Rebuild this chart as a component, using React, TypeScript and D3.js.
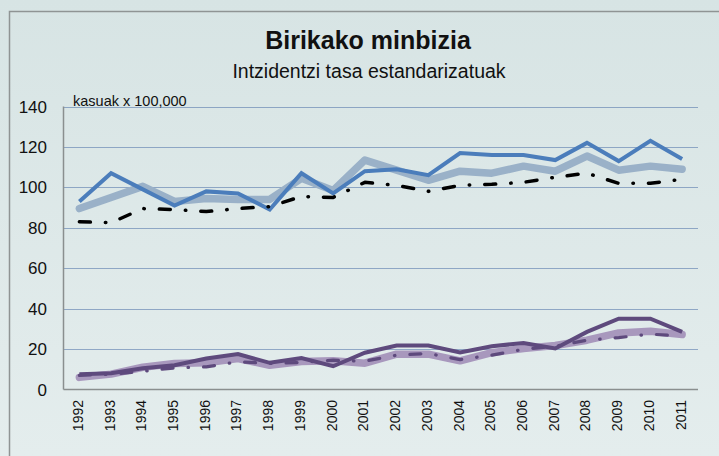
import * as d3 from "d3";
import React from "react";

// urteak
const years = [
  "1992", "1993", "1994", "1995", "1996", "1997", "1998", "1999", "2000", "2001",
  "2002", "2003", "2004", "2005", "2006", "2007", "2008", "2009", "2010", "2011",
];

// gizonak
const menMain = [93, 107, 99, 91, 98, 97, 89, 107, 97, 108, 109, 106, 117, 116, 116, 113.5, 122, 113, 123, 114];
const menRef = [89.5, 95, 100.5, 93, 94.5, 94, 94, 104.5, 98.5, 113.5, 108.5, 103.5, 108, 107, 110.5, 108, 115.5, 108.5, 110.5, 109];
const menTrend = [83, 82.5, 89.5, 89, 88, 89.5, 90.5, 95.5, 95, 102.5, 101, 98, 101, 101.5, 102.5, 105, 107, 102, 102, 104];

// emakumeak
const womenMain = [7.5, 8, 10.5, 12, 15.3, 17.5, 13.2, 15.6, 11.5, 18.2, 21.8, 21.8, 18.3, 21.4, 23, 20.3, 28.5, 35, 35, 28.5];
const womenRef = [6, 7.6, 11, 12.9, 13.2, 15.3, 12, 13.8, 14.2, 13, 17.5, 17.5, 14.2, 18.2, 20.3, 21.8, 24.4, 28, 28.8, 27.2];
const womenTrend = [7, 7.5, 9, 10.7, 11.2, 13.7, 12.9, 13.4, 14.5, 14, 17, 17.8, 14.8, 17, 19.9, 21.4, 24.4, 25.7, 27.4, 26.4];

const yTicks = [0, 20, 40, 60, 80, 100, 120, 140];

const W = 719;
const H = 456;
const plot = { left: 63.5, right: 698, top: 106.5, bottom: 389.5 };

export default function App() {
  const x = d3
    .scaleBand<string>()
    .domain(years)
    .range([plot.left, plot.right])
    .padding(0);
  const y = d3.scaleLinear().domain([0, 140]).range([plot.bottom, plot.top]);
  const cx = (i: number) => (x(years[i]) ?? 0) + x.bandwidth() / 2;

  const line = d3
    .line<number>()
    .x((_, i) => cx(i))
    .y((d) => y(d));

  const series = [
    { data: menRef, color: "#9ab1c8", width: 7.5, dash: null, cap: "round" },
    { data: menMain, color: "#4b7dbb", width: 4, dash: null, cap: "butt" },
    { data: menTrend, color: "#000000", width: 3.5, dash: "11,15,0.5,15", cap: "round" },
    { data: womenRef, color: "#a898bd", width: 7.5, dash: null, cap: "round" },
    { data: womenMain, color: "#5e4a7d", width: 4, dash: null, cap: "butt" },
    { data: womenTrend, color: "#5e4a7d", width: 3.2, dash: "11,15,0.5,15", cap: "round" },
  ];

  return (
    <svg
      width={W}
      height={H}
      style={{ position: "absolute", left: 0, top: 0, display: "block" }}
      fontFamily="'Liberation Sans', Arial, sans-serif"
    >
      <defs>
        <linearGradient id="bg" x1="0" y1="0" x2="0" y2="1">
          <stop offset="0" stopColor="#d7e4e4" />
          <stop offset="1" stopColor="#e4eded" />
        </linearGradient>
      </defs>
      <rect x={0} y={0} width={W} height={H} fill="url(#bg)" />

      {/* kanpoko markoa */}
      <path d={`M9.5,${H} V11.5 H${W}`} fill="none" stroke="#8f9494" strokeWidth={1.5} />

      <text x={368} y={49} textAnchor="middle" fontSize={25} fontWeight="bold" fill="#111">
        Birikako minbizia
      </text>
      <text x={369} y={78} textAnchor="middle" fontSize={19.5} fill="#111">
        Intzidentzi tasa estandarizatuak
      </text>
      <text x={73} y={106} fontSize={14.5} fill="#111">
        kasuak x 100,000
      </text>

      {/* sareta */}
      {yTicks
        .filter((t) => t > 0)
        .map((t) => (
          <line
            key={t}
            x1={plot.left}
            x2={plot.right}
            y1={Math.round(y(t)) + 0.5}
            y2={Math.round(y(t)) + 0.5}
            stroke="#3f64a0"
            strokeWidth={1}
            strokeDasharray="1,1"
          />
        ))}

      {/* ardatzak */}
      <line x1={plot.left} x2={plot.left} y1={plot.top} y2={plot.bottom} stroke="#8a8f8f" strokeWidth={1.5} />
      <line x1={plot.left} x2={plot.right} y1={plot.bottom} y2={plot.bottom} stroke="#8a8f8f" strokeWidth={1.5} />

      {yTicks.map((t) => (
        <text
          key={t}
          x={47}
          y={y(t)}
          dy="0.36em"
          textAnchor="end"
          fontSize={17}
          fontFamily="'Liberation Sans Narrow', 'Arial Narrow', sans-serif"
          fill="#111"
        >
          {t}
        </text>
      ))}

      {years.map((yr, i) => (
        <text
          key={yr}
          transform={`translate(${cx(i) + 3.5},400) rotate(-90)`}
          textAnchor="end"
          fontSize={14}
          fill="#111"
        >
          {yr}
        </text>
      ))}

      {series.map((s, k) => (
        <path
          key={k}
          d={line(s.data) ?? ""}
          fill="none"
          stroke={s.color}
          strokeWidth={s.width}
          strokeDasharray={s.dash ?? undefined}
          strokeLinecap={s.cap as any}
          strokeLinejoin={s.cap === "round" ? "round" : "miter"}
        />
      ))}
    </svg>
  );
}
